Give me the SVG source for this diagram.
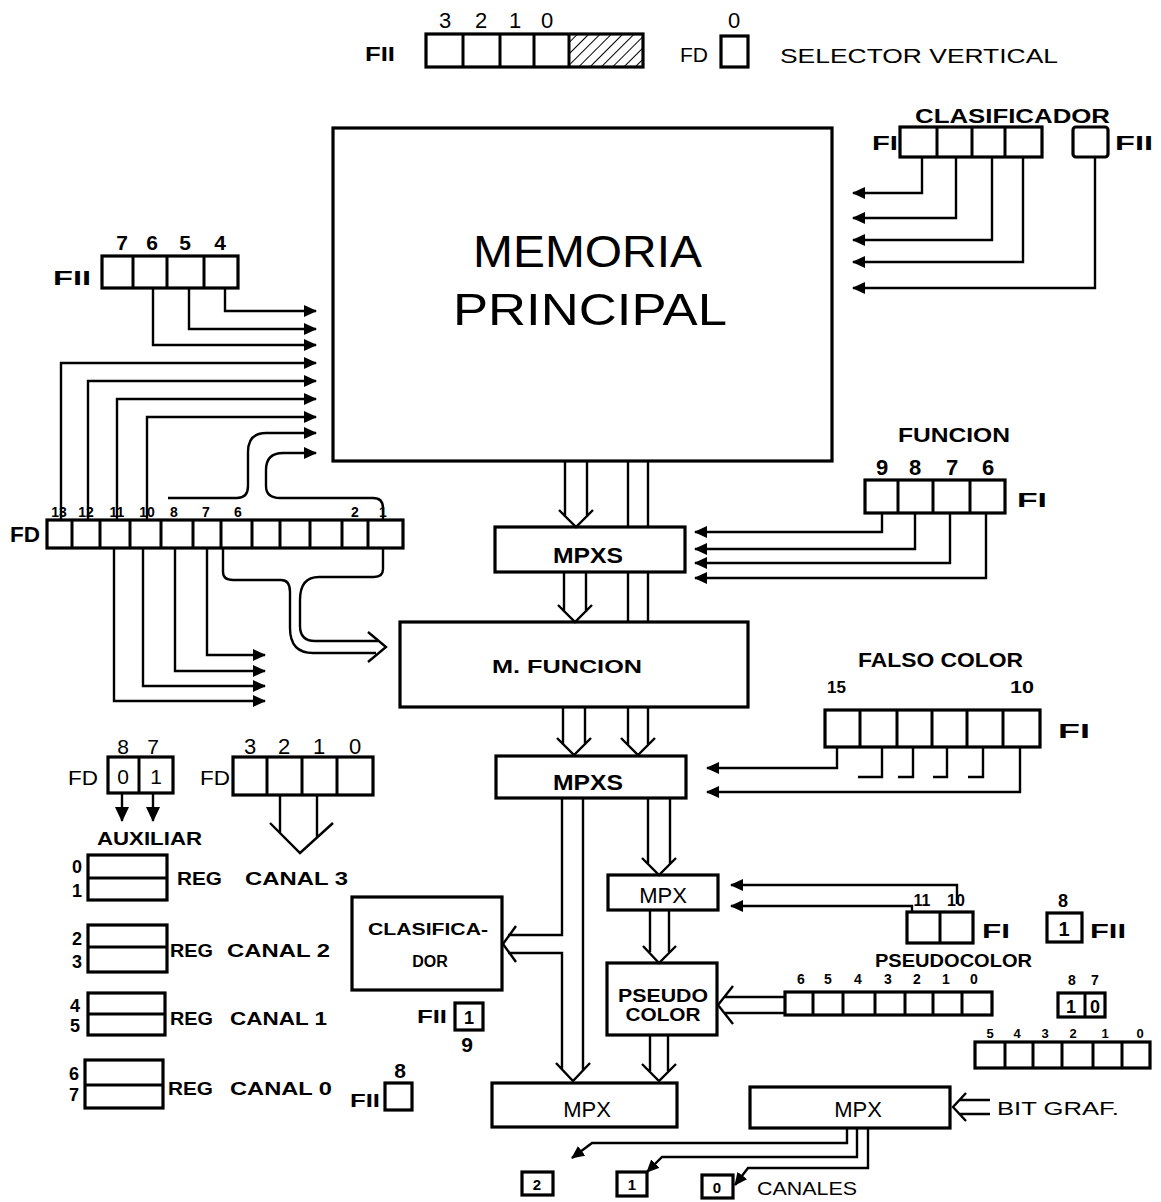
<svg xmlns="http://www.w3.org/2000/svg" width="1161" height="1202" viewBox="0 0 1161 1202">
<style>
.bx{fill:none;stroke:#000;stroke-width:3.2}
.dv{fill:none;stroke:#000;stroke-width:3}
.w{fill:none;stroke:#000;stroke-width:2.4}
.t{font-family:"Liberation Sans",Arial,sans-serif;font-weight:bold;fill:#000}
.n{font-family:"Liberation Sans",Arial,sans-serif;font-weight:normal;fill:#000}
.m{text-anchor:middle}
</style>
<defs>
<marker id="ah" markerUnits="userSpaceOnUse" markerWidth="13" markerHeight="12" refX="12" refY="6" orient="auto"><path d="M0,0 L13,6 L0,12 z" fill="#000"/></marker>
<marker id="ahb" markerUnits="userSpaceOnUse" markerWidth="15" markerHeight="14" refX="14" refY="7" orient="auto"><path d="M0,0 L15,7 L0,14 z" fill="#000"/></marker>
<pattern id="hatch" width="8" height="8" patternUnits="userSpaceOnUse" patternTransform="rotate(45)"><line x1="0" y1="0" x2="0" y2="8" stroke="#000" stroke-width="2"/></pattern>
</defs>
<rect width="1161" height="1202" fill="#fff"/>

<g id="fii-top">
<text class="t" x="365" y="61" font-size="20" textLength="30" lengthAdjust="spacingAndGlyphs">FII</text>
<rect x="569" y="34" width="74" height="33" fill="url(#hatch)"/>
<rect class="bx" x="426" y="34" width="217" height="33"/>
<path class="dv" d="M463,34V67M500,34V67M534,34V67M569,34V67"/>
<text class="n m" x="445" y="28" font-size="22">3</text>
<text class="n m" x="481" y="28" font-size="22">2</text>
<text class="n m" x="515" y="28" font-size="22">1</text>
<text class="n m" x="547" y="28" font-size="22">0</text>
</g>
<g id="fd-top">
<text class="n" x="680" y="62" font-size="21" textLength="28" lengthAdjust="spacingAndGlyphs">FD</text>
<rect class="bx" x="721" y="36" width="27" height="31"/>
<text class="n m" x="734" y="28" font-size="22">0</text>
<text class="n" x="780" y="63" font-size="21" textLength="278" lengthAdjust="spacingAndGlyphs">SELECTOR  VERTICAL</text>
</g>

<g id="memoria">
<rect class="bx" x="333" y="128" width="499" height="333"/>
<text class="n" x="473" y="267" font-size="44" textLength="229" lengthAdjust="spacingAndGlyphs">MEMORIA</text>
<text class="n" x="453" y="325" font-size="44" textLength="274" lengthAdjust="spacingAndGlyphs">PRINCIPAL</text>
</g>

<g id="clasificador-reg">
<text class="t" x="915" y="123" font-size="20" textLength="195" lengthAdjust="spacingAndGlyphs">CLASIFICADOR</text>
<text class="t" x="872" y="150" font-size="21" textLength="26" lengthAdjust="spacingAndGlyphs">FI</text>
<rect class="bx" x="900" y="127" width="142" height="30"/>
<path class="dv" d="M937,127V157M972,127V157M1005,127V157"/>
<rect class="bx" x="1073" y="127" width="35" height="30" rx="3"/>
<text class="t" x="1115" y="150" font-size="21" textLength="38" lengthAdjust="spacingAndGlyphs">FII</text>
</g>

<g id="fii-7654">
<text class="t m" x="122" y="250" font-size="21">7</text>
<text class="t m" x="152" y="250" font-size="21">6</text>
<text class="t m" x="185" y="250" font-size="21">5</text>
<text class="t m" x="220" y="250" font-size="21">4</text>
<text class="t" x="53" y="285" font-size="20" textLength="38" lengthAdjust="spacingAndGlyphs">FII</text>
<rect class="bx" x="102" y="256" width="136" height="32"/>
<path class="dv" d="M133,256V288M167,256V288M204,256V288"/>
</g>

<g id="fd-reg">
<text class="t" x="10" y="542" font-size="22" textLength="30" lengthAdjust="spacingAndGlyphs">FD</text>
<rect class="bx" x="47" y="520" width="356" height="28"/>
<path class="dv" d="M72,520V548M100,520V548M130,520V548M161,520V548M193,520V548M221,520V548M252,520V548M280,520V548M310,520V548M342,520V548M368,520V548"/>
<g class="t m" font-size="14">
<text x="59" y="517">13</text>
<text x="86" y="517">12</text>
<text x="117" y="517">11</text>
<text x="147" y="517">10</text>
<text x="174" y="517">8</text>
<text x="206" y="517">7</text>
<text x="238" y="517">6</text>
<text x="355" y="517">2</text>
<text x="383" y="517">1</text>
</g>
</g>

<g id="mpxs1">
<rect class="bx" x="495" y="527" width="190" height="45"/>
<text class="t" x="553" y="563" font-size="22" textLength="70" lengthAdjust="spacingAndGlyphs">MPXS</text>
</g>
<g id="mfuncion">
<rect class="bx" x="400" y="622" width="348" height="85"/>
<text class="t" x="492" y="673" font-size="18" textLength="150" lengthAdjust="spacingAndGlyphs">M. FUNCION</text>
</g>
<g id="mpxs2">
<rect class="bx" x="496" y="756" width="190" height="42"/>
<text class="t" x="553" y="790" font-size="22" textLength="70" lengthAdjust="spacingAndGlyphs">MPXS</text>
</g>

<g id="funcion-reg">
<text class="t" x="898" y="442" font-size="20" textLength="112" lengthAdjust="spacingAndGlyphs">FUNCION</text>
<text class="t m" x="882" y="475" font-size="22">9</text>
<text class="t m" x="915" y="475" font-size="22">8</text>
<text class="t m" x="952" y="475" font-size="22">7</text>
<text class="t m" x="988" y="475" font-size="22">6</text>
<rect class="bx" x="865" y="480" width="140" height="33"/>
<path class="dv" d="M898,480V513M933,480V513M970,480V513"/>
<text class="t" x="1017" y="507" font-size="21" textLength="30" lengthAdjust="spacingAndGlyphs">FI</text>
</g>

<g id="falso-color">
<text class="t" x="858" y="667" font-size="20" textLength="165" lengthAdjust="spacingAndGlyphs">FALSO COLOR</text>
<text class="t" x="827" y="693" font-size="17">15</text>
<text class="t" x="1010" y="693" font-size="17" textLength="24" lengthAdjust="spacingAndGlyphs">10</text>
<rect class="bx" x="825" y="710" width="215" height="37"/>
<path class="dv" d="M860,710V747M897,710V747M932,710V747M967,710V747M1003,710V747"/>
<text class="t" x="1058" y="738" font-size="21" textLength="32" lengthAdjust="spacingAndGlyphs">FI</text>
</g>

<g id="mpx-small">
<rect class="bx" x="608" y="875" width="110" height="35"/>
<text class="n m" x="663" y="903" font-size="22">MPX</text>
</g>
<g id="pseudo-color">
<rect class="bx" x="607" y="963" width="110" height="72"/>
<text class="t m" x="663" y="1002" font-size="19" textLength="90" lengthAdjust="spacingAndGlyphs">PSEUDO</text>
<text class="t m" x="663" y="1021" font-size="19" textLength="75" lengthAdjust="spacingAndGlyphs">COLOR</text>
</g>
<g id="clasificador">
<rect class="bx" x="352" y="897" width="150" height="93"/>
<text class="t" x="368" y="935" font-size="16" textLength="120" lengthAdjust="spacingAndGlyphs">CLASIFICA-</text>
<text class="t m" x="430" y="967" font-size="16">DOR</text>
</g>
<g id="fii-9">
<text class="t" x="417" y="1023" font-size="18" textLength="30" lengthAdjust="spacingAndGlyphs">FII</text>
<rect class="bx" x="455" y="1003" width="28" height="27"/>
<text class="t m" x="469" y="1024" font-size="18">1</text>
<text class="t m" x="467" y="1052" font-size="21">9</text>
</g>

<g id="fi-11-10">
<text class="t m" x="922" y="906" font-size="16">11</text>
<text class="t m" x="956" y="906" font-size="16">10</text>
<rect class="bx" x="907" y="912" width="66" height="31"/>
<path class="dv" d="M940,912V943"/>
<text class="t" x="982" y="938" font-size="21" textLength="28" lengthAdjust="spacingAndGlyphs">FI</text>
<text class="t" x="875" y="967" font-size="18" textLength="157" lengthAdjust="spacingAndGlyphs">PSEUDOCOLOR</text>
</g>
<g id="fii-8-right">
<text class="t m" x="1063" y="907" font-size="18">8</text>
<rect class="bx" x="1047" y="913" width="35" height="29"/>
<text class="t m" x="1064" y="936" font-size="20">1</text>
<text class="t" x="1090" y="938" font-size="21" textLength="36" lengthAdjust="spacingAndGlyphs">FII</text>
</g>

<g id="reg-6543210">
<rect class="bx" x="785" y="992" width="207" height="23"/>
<path class="dv" d="M813,992V1015M843,992V1015M875,992V1015M905,992V1015M933,992V1015M962,992V1015"/>
<g class="t m" font-size="14">
<text x="801" y="984">6</text><text x="828" y="984">5</text><text x="858" y="984">4</text><text x="888" y="984">3</text><text x="917" y="984">2</text><text x="946" y="984">1</text><text x="974" y="984">0</text>
</g>
</g>
<g id="reg-87">
<rect class="bx" x="1058" y="993" width="47" height="24"/>
<path class="dv" d="M1085,993V1017"/>
<text class="t m" x="1071" y="1013" font-size="18">1</text>
<text class="t m" x="1095" y="1013" font-size="18">0</text>
<text class="t m" x="1072" y="985" font-size="14">8</text>
<text class="t m" x="1095" y="985" font-size="14">7</text>
</g>
<g id="reg-543210">
<rect class="bx" x="975" y="1042" width="175" height="26"/>
<path class="dv" d="M1005,1042V1068M1033,1042V1068M1062,1042V1068M1093,1042V1068M1122,1042V1068"/>
<g class="t m" font-size="13">
<text x="990" y="1038">5</text><text x="1017" y="1038">4</text><text x="1045" y="1038">3</text><text x="1073" y="1038">2</text><text x="1105" y="1038">1</text><text x="1140" y="1038">0</text>
</g>
</g>

<g id="mpx-left">
<rect class="bx" x="492" y="1083" width="185" height="44"/>
<text class="n m" x="587" y="1117" font-size="22">MPX</text>
</g>
<g id="mpx-right">
<rect class="bx" x="750" y="1087" width="200" height="41"/>
<text class="n m" x="858" y="1117" font-size="22">MPX</text>
</g>
<g id="bit-graf">
<text class="n" x="997" y="1115" font-size="19" textLength="122" lengthAdjust="spacingAndGlyphs">BIT GRAF.</text>
</g>
<g id="canales">
<rect class="bx" x="522" y="1172" width="31" height="23"/>
<text class="t m" x="537" y="1190" font-size="15">2</text>
<rect class="bx" x="617" y="1172" width="30" height="24"/>
<text class="t m" x="632" y="1190" font-size="15">1</text>
<rect class="bx" x="702" y="1175" width="31" height="23"/>
<text class="t m" x="717" y="1193" font-size="15">0</text>
<text class="n" x="757" y="1195" font-size="19" textLength="100" lengthAdjust="spacingAndGlyphs">CANALES</text>
</g>

<g id="fd-87">
<text class="n" x="68" y="785" font-size="21" textLength="30" lengthAdjust="spacingAndGlyphs">FD</text>
<rect class="bx" x="108" y="757" width="65" height="36"/>
<path class="dv" d="M139,757V793"/>
<text class="n m" x="123" y="784" font-size="21">0</text>
<text class="n m" x="156" y="784" font-size="21">1</text>
<text class="n m" x="123" y="754" font-size="21">8</text>
<text class="n m" x="153" y="754" font-size="21">7</text>
<text class="t" x="97" y="845" font-size="18" textLength="105" lengthAdjust="spacingAndGlyphs">AUXILIAR</text>
</g>
<g id="fd-3210">
<text class="n" x="200" y="785" font-size="21" textLength="30" lengthAdjust="spacingAndGlyphs">FD</text>
<rect class="bx" x="233" y="757" width="140" height="38"/>
<path class="dv" d="M267,757V795M302,757V795M337,757V795"/>
<text class="n m" x="250" y="754" font-size="22">3</text>
<text class="n m" x="284" y="754" font-size="22">2</text>
<text class="n m" x="319" y="754" font-size="22">1</text>
<text class="n m" x="355" y="754" font-size="22">0</text>
</g>
<g id="reg-canal-3">
<rect class="bx" x="88" y="855" width="79" height="45"/><path class="dv" d="M88,878H167"/>
<text class="t m" x="77" y="873" font-size="18">0</text><text class="t m" x="77" y="897" font-size="18">1</text>
<text class="t" x="177" y="885" font-size="19" textLength="45" lengthAdjust="spacingAndGlyphs">REG</text>
<text class="t" x="245" y="885" font-size="19" textLength="103" lengthAdjust="spacingAndGlyphs">CANAL 3</text>
</g>
<g id="reg-canal-2">
<rect class="bx" x="88" y="925" width="79" height="47"/><path class="dv" d="M88,947H167"/>
<text class="t m" x="77" y="945" font-size="18">2</text><text class="t m" x="77" y="968" font-size="18">3</text>
<text class="t" x="170" y="957" font-size="19" textLength="43" lengthAdjust="spacingAndGlyphs">REG</text>
<text class="t" x="227" y="957" font-size="19" textLength="103" lengthAdjust="spacingAndGlyphs">CANAL 2</text>
</g>
<g id="reg-canal-1">
<rect class="bx" x="88" y="993" width="77" height="42"/><path class="dv" d="M88,1014H165"/>
<text class="t m" x="75" y="1012" font-size="18">4</text><text class="t m" x="75" y="1032" font-size="18">5</text>
<text class="t" x="170" y="1025" font-size="19" textLength="43" lengthAdjust="spacingAndGlyphs">REG</text>
<text class="t" x="230" y="1025" font-size="19" textLength="97" lengthAdjust="spacingAndGlyphs">CANAL 1</text>
</g>
<g id="reg-canal-0">
<rect class="bx" x="85" y="1060" width="78" height="48"/><path class="dv" d="M85,1085H163"/>
<text class="t m" x="74" y="1080" font-size="18">6</text><text class="t m" x="74" y="1101" font-size="18">7</text>
<text class="t" x="168" y="1095" font-size="19" textLength="45" lengthAdjust="spacingAndGlyphs">REG</text>
<text class="t" x="230" y="1095" font-size="19" textLength="102" lengthAdjust="spacingAndGlyphs">CANAL 0</text>
</g>
<g id="fii-8-left">
<text class="t" x="350" y="1107" font-size="18" textLength="30" lengthAdjust="spacingAndGlyphs">FII</text>
<rect class="bx" x="385" y="1083" width="27" height="27"/>
<text class="t m" x="400" y="1078" font-size="21">8</text>
</g>

<g id="connectors">
<path class="w" marker-end="url(#ah)" d="M922,157V193H853"/>
<path class="w" marker-end="url(#ah)" d="M956,157V218H853"/>
<path class="w" marker-end="url(#ah)" d="M992,157V240H853"/>
<path class="w" marker-end="url(#ah)" d="M1023,157V262H853"/>
<path class="w" marker-end="url(#ah)" d="M1095,157V288H853"/>
<path class="w" marker-end="url(#ah)" d="M225,288V311H316"/>
<path class="w" marker-end="url(#ah)" d="M189,288V329H316"/>
<path class="w" marker-end="url(#ah)" d="M153,288V345H316"/>
<path class="w" marker-end="url(#ah)" d="M61,520V363H316"/>
<path class="w" marker-end="url(#ah)" d="M88,520V381H316"/>
<path class="w" marker-end="url(#ah)" d="M117,520V399H316"/>
<path class="w" marker-end="url(#ah)" d="M147,520V417H316"/>
<path class="w" marker-end="url(#ah)" d="M168,498H237Q248,498 248,486V452Q248,433 266,433H316"/>
<path class="w" marker-end="url(#ah)" d="M383,520V508Q383,498 373,498H280Q266,498 266,486V470Q266,453 283,453H316"/>
<path class="w" marker-end="url(#ah)" d="M114,548V701H265"/>
<path class="w" marker-end="url(#ah)" d="M143,548V686H265"/>
<path class="w" marker-end="url(#ah)" d="M175,548V671H265"/>
<path class="w" marker-end="url(#ah)" d="M207,548V655H265"/>
<path class="w" d="M223,548V572Q223,580 233,580H281Q290,580 290,592V628Q290,653 313,653H376"/>
<path class="w" d="M383,548V569Q383,577 374,577H319Q300,577 300,600V626Q300,641 315,641H378"/>
<path class="w" d="M368,632L386,647L368,662"/>
<path class="w" marker-end="url(#ah)" d="M882,513V532H695"/>
<path class="w" marker-end="url(#ah)" d="M915,513V549H695"/>
<path class="w" marker-end="url(#ah)" d="M950,513V563H695"/>
<path class="w" marker-end="url(#ah)" d="M986,513V578H695"/>
<path class="w" marker-end="url(#ah)" d="M837,747V768H707"/>
<path class="w" marker-end="url(#ah)" d="M1020,747V792H707"/>
<path class="w" d="M882,747V777H858M913,747V777H898M947,747V777H933M983,747V777H968"/>
<path class="w" d="M565,461V517M587,461V517M559,510L576,527L593,510"/>
<path class="w" d="M628,461V527M648,461V527M628,572V622M648,572V622"/>
<path class="w" d="M564,572V612M586,572V612M558,605L575,622L592,605"/>
<path class="w" d="M563,707V745M585,707V745M557,738L574,755L591,738"/>
<path class="w" d="M628,707V745M648,707V745M621,738L638,755L655,738"/>
<path class="w" d="M648,798V864M670,798V864M642,858L659,875L676,858"/>
<path class="w" d="M650,910V952M669,910V952M643,946L659,963L676,946"/>
<path class="w" d="M650,1035V1071M668,1035V1071M642,1064L659,1081L676,1064"/>
<path class="w" d="M562,798V935H508M508,953H562V1070M583,798V1070M516,926L503,944L516,962M556,1063L573,1081L590,1063"/>
<path class="w" d="M785,997H725M785,1013H725M733,986L718,1005L733,1024"/>
<path class="w" marker-end="url(#ah)" d="M957,904V885H731"/>
<path class="w" marker-end="url(#ah)" d="M912,912V906H731"/>
<path class="w" d="M990,1100H960M990,1114H960M966,1093L953,1107L966,1121"/>
<path class="w" marker-end="url(#ah)" d="M847,1128V1143H592L572,1158"/>
<path class="w" marker-end="url(#ah)" d="M857,1128V1157H662L647,1172"/>
<path class="w" marker-end="url(#ah)" d="M868,1128V1168H748L735,1185"/>
<path class="w" marker-end="url(#ahb)" d="M122,793V821"/>
<path class="w" marker-end="url(#ahb)" d="M153,793V821"/>
<path class="w" d="M280,795V833M317,795V838M270,823L300,853L333,823"/>
</g>
</svg>
